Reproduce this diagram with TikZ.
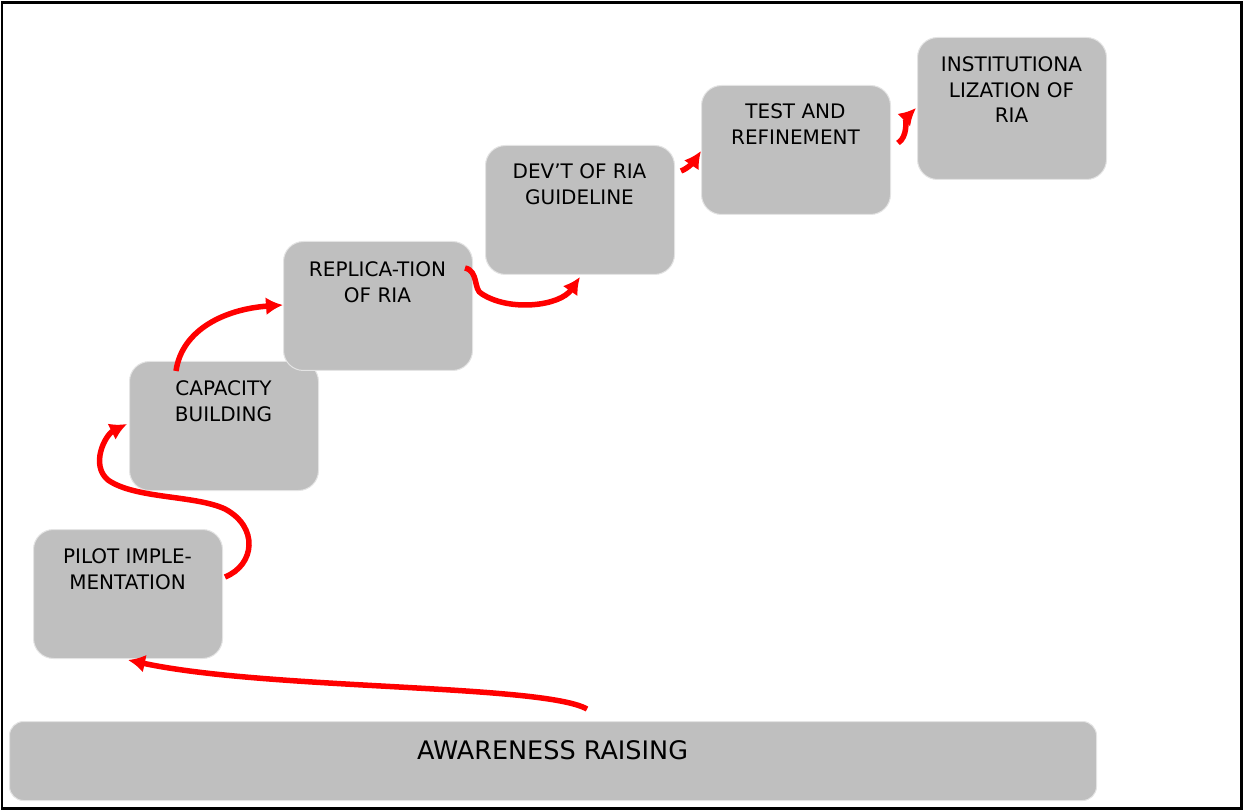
\documentclass[tikz,border=0pt]{standalone}
\usepackage{fontspec}
\setmainfont{DejaVu Sans}
\usetikzlibrary{arrows.meta,calc}
\definecolor{boxgray}{HTML}{BFBFBF}
\definecolor{boxedge}{HTML}{E4E4E4}
\definecolor{flowred}{HTML}{FF0000}
\definecolor{ink}{HTML}{000000}
\begin{document}
\begin{tikzpicture}[x=1pt,y=-1pt,
  stage/.style={draw=boxedge,line width=1pt,fill=boxgray,rounded corners=20pt,
    minimum width=189pt,minimum height=129pt,anchor=north west,inner sep=0pt},
  stagetext/.style={anchor=north,inner sep=0pt,align=center,text=ink,
    font=\fontsize{20}{25.5}\selectfont},
  flow/.style={draw=flowred,line width=5.5pt,
    -{Latex[length=17pt,width=18pt]}},
]
\useasboundingbox (0,0) rectangle (1243,810);
\draw[line width=2.6pt] (2,2.5) rectangle (1241.5,808.5);

% base bar
\node[stage,rounded corners=14pt,minimum width=1087pt,minimum height=79pt] (aware) at (9,721) {};
\node[anchor=base,inner sep=0pt,text=ink,font=\fontsize{25.5}{30}\selectfont] (aware-t) at (552.5,759) {AWARENESS RAISING};

% staircase of stages
\node[stage] (pilot) at (33,529) {};
\node[stagetext] (pilot-t) at (127.5,548.5) {PILOT IMPLE-\\MENTATION};

\node[stage] (capa) at (129,361) {};
\node[stagetext] (capa-t) at (223.5,380.5) {CAPACITY\\BUILDING};

\node[stage] (repl) at (283,241) {};
\node[stagetext] (repl-t) at (377.5,261.5) {REPLICA-TION\\OF RIA};

\node[stage] (devt) at (485,145) {};
\node[stagetext] (devt-t) at (579.5,163.5) {DEV’T OF RIA\\GUIDELINE};

\node[stage] (test) at (701,85) {};
\node[stagetext] (test-t) at (795.5,103.5) {TEST AND\\REFINEMENT};

\node[stage,minimum height=142pt] (inst) at (917,37) {};
\node[stagetext] (inst-t) at (1011.5,56.5) {INSTITUTIONA\\LIZATION OF\\RIA};

% connector end points on the boxes
\coordinate (a1) at ([shift={(578,-12)}]aware.north west);
\coordinate (p0) at ([shift={(95,1)}]pilot.south west);
\coordinate (p1) at ([shift={(2,48)}]pilot.north east);
\coordinate (c0) at ([shift={(-2,63)}]capa.north west);
\coordinate (c1) at ([shift={(47,10)}]capa.north west);
\coordinate (r0) at ([shift={(0,64)}]repl.north west);
\coordinate (r1) at ([shift={(-8,27)}]repl.north east);
\coordinate (d0) at ([shift={(95,2)}]devt.south west);
\coordinate (d1) at ([shift={(6,26)}]devt.north east);
\coordinate (t0) at ([shift={(0,66)}]test.north west);
\coordinate (t1) at ([shift={(7,58)}]test.north east);
\coordinate (i0) at ([shift={(-1,71)}]inst.north west);

% red flow arrows
\draw[flow] (a1) .. controls ($(a1)+(-45,-25)$) and ($(p0)+(140,30)$) .. (p0);
\draw[flow] (p1) .. controls ($(p1)+(30,-12)$) and ($(p1)+(34,-50)$) .. ($(p1)+(0,-68)$)
  .. controls ($(p1)+(-30,-82)$) and ($(p1)+(-90,-78)$) .. ($(p1)+(-117,-97)$)
  .. controls ($(p1)+(-135,-112)$) and ($(p1)+(-120,-142)$) .. (c0);
\draw[flow] (c1) .. controls ($(c1)+(6,-42)$) and ($(c1)+(50,-62)$) .. (r0);
\draw[flow] (r1) .. controls ($(r1)+(14,3)$) and ($(r1)+(8,22)$) .. ($(r1)+(17,26)$)
  .. controls ($(r1)+(45,44)$) and ($(r1)+(95,38)$) .. (d0);
\draw[flow] (d1) .. controls ($(d1)+(8,-3)$) and ($(d1)+(14,-11)$) .. (t0);
\draw[flow] (t1) .. controls ($(t1)+(10,-6)$) and ($(t1)+(8,-25)$) .. (i0);
\end{tikzpicture}
\end{document}
